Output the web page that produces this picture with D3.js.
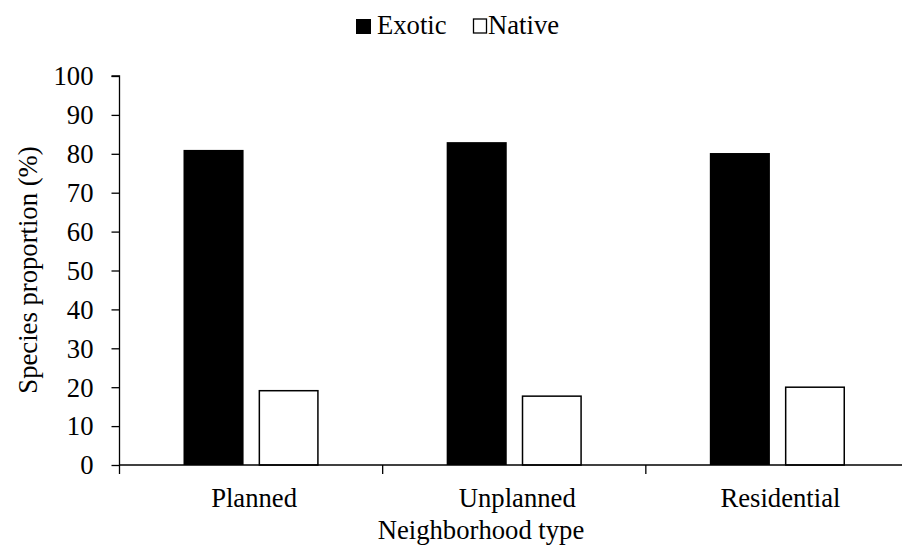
<!DOCTYPE html>
<html>
<head>
<meta charset="utf-8">
<script src="https://cdn.jsdelivr.net/npm/d3@7"></script>
<style>
  html, body { margin: 0; padding: 0; background: #fff; }
  svg { display: block; }
</style>
</head>
<body>
<svg id="chart" width="902" height="554"></svg>
<script>
const categories = ["Planned", "Unplanned", "Residential"];
const seriesNames = ["Exotic", "Native"];
const exoticValues = [81.0, 83.0, 80.2];
const nativeValues = [19.1, 17.7, 20.0];
const yTicks = [0, 10, 20, 30, 40, 50, 60, 70, 80, 90, 100];
const xTitle = "Neighborhood type";
const yTitle = "Species proportion (%)";

const data = categories.map((c, i) => ({
  category: c,
  values: [
    { series: "Exotic", value: exoticValues[i] },
    { series: "Native", value: nativeValues[i] }
  ]
}));

const serif = '"Liberation Serif", "Times New Roman", Tinos, serif';
const fontSize = 26.67;
const svg = d3.select("#chart");

function styleText(sel) {
  return sel.style("font-family", serif).style("font-size", fontSize + "px").style("fill", "#000");
}

const pLeft = 119.5, pRight = 909, pTop = 76, pBottom = 465;

const x0 = d3.scaleBand().domain(categories).range([pLeft, pRight]).padding(0);
const groupPad = 64;
const x1 = d3.scaleBand().domain(seriesNames)
  .range([groupPad, x0.bandwidth() - groupPad]).paddingInner(0.2).paddingOuter(0);
const y = d3.scaleLinear().domain([0, 100]).range([pBottom, pTop]);

const fills = { Exotic: "#000", Native: "#fff" };

// bars
const groups = svg.append("g").selectAll("g").data(data).join("g")
  .attr("transform", d => `translate(${x0(d.category)},0)`);
groups.selectAll("rect").data(d => d.values).join("rect")
  .attr("x", d => x1(d.series) + (d.series === "Native" ? 0.75 : 0))
  .attr("y", d => y(d.value))
  .attr("width", d => x1.bandwidth() - (d.series === "Native" ? 1.5 : 0))
  .attr("height", d => y(0) - y(d.value))
  .attr("fill", d => fills[d.series])
  .attr("stroke", d => d.series === "Native" ? "#000" : "none")
  .attr("stroke-width", 1.5);

// y axis
const yAxis = d3.axisLeft(y).tickValues(yTicks).tickSize(8).tickPadding(18).tickFormat(d3.format("d"));
const gy = svg.append("g").attr("transform", `translate(${pLeft},0)`).call(yAxis);
gy.select(".domain").attr("stroke", "#000").attr("stroke-width", 1.3).attr("d", `M-8,${pTop}H0V${pBottom}`);
gy.selectAll(".tick line").attr("stroke", "#000").attr("stroke-width", 1.3);
styleText(gy.selectAll(".tick text")).attr("dy", "0.33em");

// x axis
const gx = svg.append("g").attr("transform", `translate(0,${pBottom})`);
gx.append("line").attr("x1", pLeft).attr("x2", pRight).attr("y1", 0).attr("y2", 0)
  .attr("stroke", "#000").attr("stroke-width", 1.3);
const boundaries = categories.map(c => x0(c)).concat([x0(categories[categories.length - 1]) + x0.bandwidth()]);
gx.selectAll("line.tk").data(boundaries).join("line").attr("class", "tk")
  .attr("x1", d => d).attr("x2", d => d).attr("y1", 0).attr("y2", 9)
  .attr("stroke", "#000").attr("stroke-width", 1.3);
styleText(gx.selectAll("text.cat").data(categories).join("text").attr("class", "cat")
  .attr("x", d => x0(d) + x0.bandwidth() / 2 + 3)
  .attr("y", 42)
  .attr("text-anchor", "middle")
  .text(d => d));

// axis titles
styleText(svg.append("text")
  .attr("x", 481).attr("y", 539)
  .attr("text-anchor", "middle")
  .text(xTitle));

styleText(svg.append("text")
  .attr("transform", "translate(37,270) rotate(-90)")
  .attr("text-anchor", "middle")
  .text(yTitle));

// legend
const legendItems = [
  { name: "Exotic", sx: 356, tx: 377 },
  { name: "Native", sx: 473.5, tx: 488 }
];
const lg = svg.append("g");
legendItems.forEach(it => {
  lg.append("rect")
    .attr("x", it.sx).attr("y", 19)
    .attr("width", it.name === "Native" ? 13 : 15)
    .attr("height", it.name === "Native" ? 14 : 15)
    .attr("fill", fills[it.name])
    .attr("stroke", it.name === "Native" ? "#000" : "none")
    .attr("stroke-width", 1.3);
  styleText(lg.append("text")
    .attr("x", it.tx).attr("y", 34)
    .text(it.name));
});
</script>
</body>
</html>
